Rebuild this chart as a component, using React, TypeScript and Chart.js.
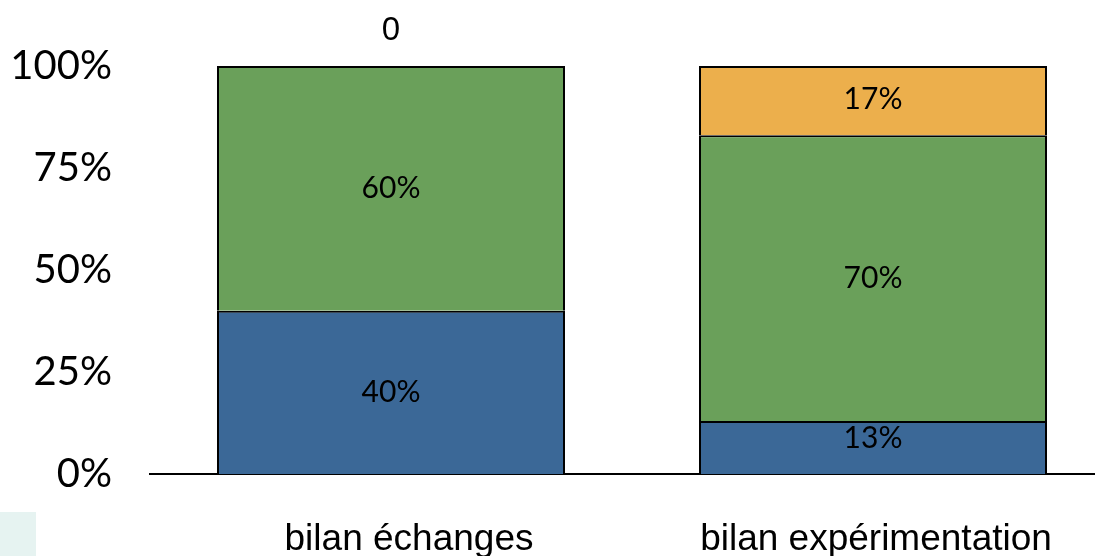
import React, { useEffect, useRef } from "react";
import { Chart, registerables } from "chart.js";

Chart.register(...registerables);

const categories = ["bilan échanges", "bilan expérimentation"];
const seriesBlue = [40, 13];
const seriesGreen = [60, 70];
const seriesOrange = [0, 17];
const yTicks = [0, 25, 50, 75, 100];

const COLORS = { blue: "#3b6897", green: "#6aa05a", orange: "#ecaf4c" };
// horizontal nudge of each category label, in px (styling only)
const LABEL_NUDGE = [18, 3];

const labelPlugin = {
  id: "segLabels",
  afterDatasetsDraw(chart: any) {
    const ctx = chart.ctx;
    ctx.save();
    ctx.fillStyle = "#000";
    ctx.textAlign = "center";
    ctx.textBaseline = "middle";
    chart.data.datasets.forEach((ds: any, di: number) => {
      const meta = chart.getDatasetMeta(di);
      meta.data.forEach((el: any, i: number) => {
        const v = ds.data[i];
        const { x, y, base } = el.getProps(["x", "y", "base"], true);
        if (!v) {
          ctx.font = "33px 'Liberation Sans', Arial, sans-serif";
          ctx.fillText("0", x, y - 35);
        } else {
          ctx.font = "30px Lato, sans-serif";
          const cy = Math.min((y + base) / 2, base - 36);
          ctx.fillText(v + "%", x, cy);
        }
      });
    });
    // category labels
    const xs = chart.scales.x;
    ctx.font = "37px 'Liberation Sans', Arial, sans-serif";
    ctx.textBaseline = "alphabetic";
    chart.data.labels.forEach((lab: string, i: number) => {
      const px = xs.getPixelForValue(i) + (LABEL_NUDGE[i] || 0);
      ctx.fillText(lab, px, xs.top + 76);
    });
    ctx.restore();
  },
};

export default function App() {
  const ref = useRef<HTMLCanvasElement>(null);
  useEffect(() => {
    if (!ref.current) return;
    const all = [seriesBlue, seriesGreen, seriesOrange];
    const bw = (dsIndex: number) => (c: any) => {
      const v = all[dsIndex][c.dataIndex];
      if (!v) return 0;
      return { left: 2, right: 2, top: 2, bottom: 0 };
    };
    const mk = (label: string, data: number[], color: string, idx: number) => ({
      label,
      data,
      backgroundColor: color,
      borderColor: "#000",
      borderWidth: bw(idx),
      borderSkipped: false,
      barPercentage: 1,
      categoryPercentage: 348 / 482,
    });
    const chart = new Chart(ref.current, {
      type: "bar",
      data: {
        labels: categories,
        datasets: [
          mk("A", seriesBlue, COLORS.blue, 0),
          mk("B", seriesGreen, COLORS.green, 1),
          mk("C", seriesOrange, COLORS.orange, 2),
        ],
      },
      options: {
        responsive: false,
        animation: false,
        layout: { padding: { top: 66, left: 0, right: 0, bottom: 0 } },
        plugins: { legend: { display: false }, tooltip: { enabled: false } },
        scales: {
          x: {
            stacked: true,
            afterFit: (s: any) => {
              s.height = 82;
            },
            grid: { display: false },
            border: { display: true, color: "#000", width: 2 },
            ticks: { display: false },
          },
          y: {
            stacked: true,
            min: 0,
            max: 100,
            afterFit: (s: any) => {
              s.width = 150;
            },
            afterBuildTicks: (s: any) => {
              s.ticks = yTicks.map((v) => ({ value: v }));
            },
            grid: { display: false, drawTicks: false },
            border: { display: false },
            ticks: {
              color: "#000",
              padding: 38,
              font: { family: "Lato, sans-serif", size: 40 },
              callback: (v: any) => v + "%",
            },
          },
        },
      },
      plugins: [labelPlugin],
    });
    return () => chart.destroy();
  }, []);
  return (
    <div
      style={{
        position: "fixed",
        left: 0,
        top: 0,
        width: 1095,
        height: 556,
        overflow: "hidden",
        background: "#fff",
      }}
    >
      <div
        style={{
          position: "absolute",
          left: 0,
          top: 512,
          width: 36,
          height: 44,
          background: "#e6f3f1",
        }}
      />
      <canvas
        ref={ref}
        width={1114}
        height={556}
        style={{ position: "absolute", left: 0, top: 0, width: 1114, height: 556 }}
      />
    </div>
  );
}
